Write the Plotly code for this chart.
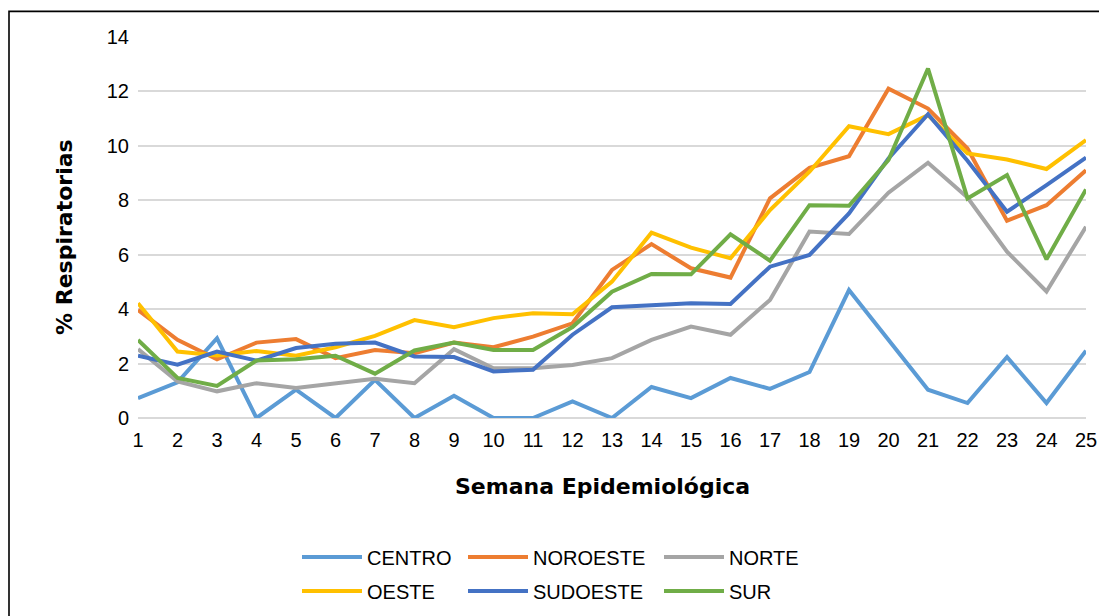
import plotly.graph_objects as go

weeks = list(range(1, 26))

centro = [0.73, 1.31, 2.93, 0.0, 1.04, 0.0, 1.4, 0.0, 0.82, 0.0, 0.0, 0.61, 0.0,
          1.14, 0.73, 1.47, 1.07, 1.69, 4.7, 2.85, 1.04, 0.55, 2.24, 0.55, 2.47]
noroeste = [3.97, 2.87, 2.16, 2.77, 2.9, 2.2, 2.5, 2.38, 2.77, 2.6, 2.99, 3.48, 5.44,
            6.39, 5.5, 5.16, 8.07, 9.19, 9.62, 12.1, 11.37, 9.9, 7.25, 7.82, 9.1]
norte = [2.53, 1.34, 0.98, 1.28, 1.1, 1.28, 1.44, 1.28, 2.53, 1.83, 1.83, 1.95, 2.2,
         2.87, 3.36, 3.06, 4.34, 6.85, 6.76, 8.28, 9.38, 8.1, 6.11, 4.65, 7.03]
oeste = [4.22, 2.44, 2.3, 2.46, 2.29, 2.6, 3.02, 3.6, 3.34, 3.67, 3.85, 3.81, 5.01,
         6.81, 6.26, 5.87, 7.64, 9.05, 10.72, 10.43, 11.13, 9.72, 9.5, 9.15, 10.21]
sudoeste = [2.29, 1.96, 2.44, 2.11, 2.57, 2.73, 2.77, 2.26, 2.24, 1.71, 1.77, 3.06, 4.07,
            4.16, 4.22, 4.19, 5.56, 5.99, 7.52, 9.54, 11.16, 9.45, 7.58, 8.56, 9.57]
sur = [2.87, 1.47, 1.18, 2.11, 2.16, 2.29, 1.63, 2.48, 2.77, 2.5, 2.5, 3.34, 4.64,
       5.29, 5.28, 6.75, 5.78, 7.82, 7.8, 9.48, 12.84, 8.07, 8.93, 5.83, 8.4]

series_names = ["CENTRO", "NOROESTE", "NORTE", "OESTE", "SUDOESTE", "SUR"]
series_values = [centro, noroeste, norte, oeste, sudoeste, sur]
colors = ["#5B9BD5", "#ED7D31", "#A5A5A5", "#FFC000", "#4472C4", "#70AD47"]

# figure is placed at an 8px page offset
W, H = 1099, 608
L, R, T, B = 130, 21, 28.7, 197.7
PW = W - L - R
PH = H - T - B

def px_x(x):
    return (x - L) / PW

def px_y(y):
    return (H - B - y) / PH

# legend positions (figure pixels) for each entry
leg_pos = [(289, 549), (455, 549), (651, 549), (289, 583), (455, 583), (651, 583)]

fig = go.Figure()
legend_layout = {}
for i, (name, vals, col) in enumerate(zip(series_names, series_values, colors)):
    lname = "legend" if i == 0 else f"legend{i+1}"
    fig.add_trace(go.Scatter(x=weeks, y=vals, mode="lines", name=name,
                             line=dict(color=col, width=4),
                             legend=lname))
    lx, ly = leg_pos[i]
    legend_layout[lname] = dict(
        x=lx / W, y=1 - ly / H, xref="container", yref="container",
        xanchor="left", yanchor="middle",
        font=dict(family="Liberation Sans, Arial, sans-serif", size=20, color="#000"),
        bgcolor="rgba(0,0,0,0)", itemwidth=60,
    )

fig.update_layout(
    width=W, height=H,
    margin=dict(l=L, r=R, t=T, b=B, autoexpand=False),
    paper_bgcolor="white", plot_bgcolor="white",
    showlegend=True,
    font=dict(family="Liberation Sans, Arial, sans-serif", size=20, color="#000"),
    **legend_layout,
)

fig.update_xaxes(
    range=[1, 25], tickmode="array", tickvals=weeks, ticktext=[str(w) for w in weeks],
    showgrid=False, zeroline=False, showline=False, ticks="",
    tickfont=dict(family="Liberation Sans, Arial, sans-serif", size=20, color="#000"),
    ticklabelstandoff=8, automargin=False,
)
fig.update_yaxes(
    range=[0, 14], dtick=2, showgrid=True, gridcolor="#D9D9D9", gridwidth=2,
    zeroline=True, zerolinecolor="#D9D9D9", zerolinewidth=2, showline=False, ticks="",
    tickfont=dict(family="Liberation Sans, Arial, sans-serif", size=20, color="#000"),
    ticklabelstandoff=8, automargin=False,
)

title_font = dict(family="DejaVu Sans", size=22, color="#000", weight="bold")
fig.add_annotation(text="Semana Epidemiológica", xref="paper", yref="paper",
                   x=px_x(594), y=px_y(479), xanchor="center", yanchor="middle",
                   showarrow=False, font=title_font)
fig.add_annotation(text="% Respiratorias", xref="paper", yref="paper",
                   x=px_x(57), y=px_y(229), xanchor="center", yanchor="middle",
                   textangle=-90, showarrow=False, font=title_font)

fig.add_shape(type="rect", xref="paper", yref="paper",
              x0=px_x(1), x1=px_x(W + 10),
              y0=px_y(H + 10), y1=px_y(3),
              line=dict(color="black", width=1.6), fillcolor="rgba(0,0,0,0)",
              layer="below")

fig.write_html("out.html")
